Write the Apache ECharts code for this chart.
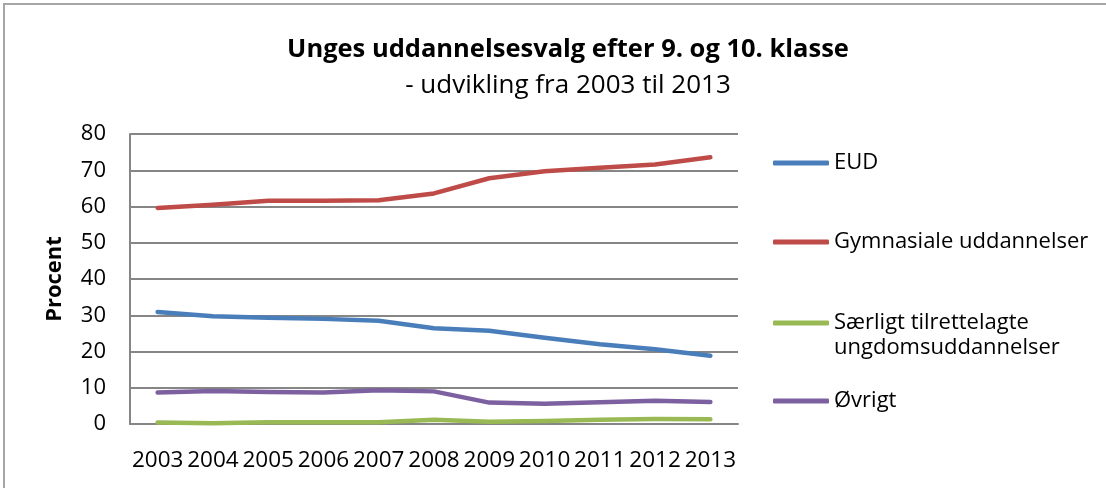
<!DOCTYPE html>
<html>
<head>
<meta charset="utf-8">
<script src="https://cdn.jsdelivr.net/npm/echarts@6/dist/echarts.min.js"></script>
<style>
  html, body { margin: 0; padding: 0; background: #fff; }
  #chart { width: 1106px; height: 488px; }
</style>
</head>
<body>
<div id="chart"></div>
<script>
// Unges uddannelsesvalg efter 9. og 10. klasse, 2003-2013
var years = ['2003', '2004', '2005', '2006', '2007', '2008', '2009', '2010', '2011', '2012', '2013'];
var eud = [30.9, 29.7, 29.3, 29.0, 28.5, 26.4, 25.7, 23.8, 22.0, 20.6, 18.8];
var gymnasiale = [59.6, 60.5, 61.6, 61.6, 61.7, 63.6, 67.8, 69.7, 70.7, 71.6, 73.6];
var saerligt = [0.4, 0.2, 0.5, 0.5, 0.5, 1.2, 0.6, 0.8, 1.2, 1.4, 1.3];
var oevrigt = [8.7, 9.1, 8.8, 8.7, 9.3, 9.0, 5.9, 5.6, 6.0, 6.4, 6.1];
var yTicks = [0, 10, 20, 30, 40, 50, 60, 70, 80];

var names = ['EUD', 'Gymnasiale uddannelser', 'Særligt tilrettelagte', 'Øvrigt'];
var colors = ['#4a7ebb', '#be4b48', '#98b954', '#7d60a0'];
var font = 'Open Sans';

var chart = echarts.init(document.getElementById('chart'), null, { renderer: 'canvas' });

function makeSeries(name, data, color) {
  return {
    name: name,
    type: 'line',
    data: data,
    showSymbol: false,
    symbol: 'none',
    lineStyle: { color: color, width: 4.5, cap: 'round', join: 'round' },
    itemStyle: { color: color },
    animation: false
  };
}

function makeLegend(name, top) {
  return {
    data: [name],
    left: 773,
    top: top,
    orient: 'vertical',
    icon: 'roundRect',
    itemWidth: 56,
    itemHeight: 5,
    padding: 0,
    selectedMode: false,
    textStyle: { color: '#000', fontFamily: font, fontSize: 22 }
  };
}

chart.setOption({
  backgroundColor: '#fff',
  title: [
    {
      text: 'Unges uddannelsesvalg efter 9. og 10. klasse',
      left: 563,
      textAlign: 'center',
      top: 32,
      textStyle: { fontFamily: font, fontWeight: 'bold', fontSize: 25.5, color: '#000' }
    },
    {
      text: '- udvikling fra 2003 til 2013',
      left: 563,
      textAlign: 'center',
      top: 68,
      textStyle: { fontFamily: font, fontWeight: 'normal', fontSize: 26, color: '#000' }
    }
  ],
  graphic: [
    {
      type: 'rect',
      shape: { x: 4, y: 4, width: 1200, height: 600 },
      style: { fill: 'none', stroke: '#a6a6a6', lineWidth: 2 },
      silent: true
    },
    {
      // second line of the third legend entry
      type: 'text',
      left: 834,
      top: 337,
      style: { text: 'ungdomsuddannelser', fill: '#000', font: '22px "Open Sans"' },
      silent: true
    }
  ],
  legend: [
    makeLegend(names[0], 152),
    makeLegend(names[1], 231),
    makeLegend(names[2], 312),
    makeLegend(names[3], 390)
  ],
  grid: { left: 130, right: 368, top: 134, bottom: 64 },
  xAxis: {
    type: 'category',
    data: years,
    boundaryGap: true,
    axisLine: { show: true, lineStyle: { color: '#868686', width: 2 } },
    axisTick: { show: false },
    axisLabel: { color: '#000', fontFamily: font, fontSize: 22.5, margin: 25, interval: 0 }
  },
  yAxis: {
    type: 'value',
    min: yTicks[0],
    max: yTicks[yTicks.length - 1],
    interval: 10,
    name: 'Procent',
    nameLocation: 'middle',
    nameRotate: 90,
    nameGap: 64,
    nameTextStyle: { color: '#000', fontFamily: font, fontWeight: 'bold', fontSize: 22 },
    axisLine: { show: true, lineStyle: { color: '#868686', width: 2 } },
    axisTick: { show: false },
    axisLabel: { color: '#000', fontFamily: font, fontSize: 22, margin: 24 },
    splitLine: { show: true, lineStyle: { color: '#868686', width: 2 } }
  },
  series: [
    makeSeries(names[0], eud, colors[0]),
    makeSeries(names[1], gymnasiale, colors[1]),
    makeSeries(names[2], saerligt, colors[2]),
    makeSeries(names[3], oevrigt, colors[3])
  ]
});
</script>
</body>
</html>
